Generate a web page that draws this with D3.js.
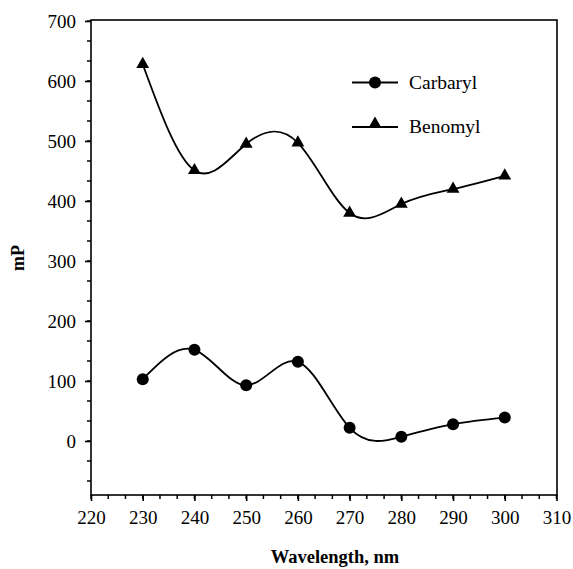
<!DOCTYPE html>
<html><head><meta charset="utf-8">
<script src="https://cdn.jsdelivr.net/npm/d3@7"></script>
<style>body{margin:0;background:#fff}</style>
</head><body>
<svg id="c" width="573" height="569"></svg>
<script>
const wavelengths = [230, 240, 250, 260, 270, 280, 290, 300];
const carbaryl = [103, 152, 93, 132, 22, 7, 28, 39];
const benomyl = [628, 451, 495, 497, 380, 395, 420, 442];
const xTicks = [220, 230, 240, 250, 260, 270, 280, 290, 300, 310];
const yTicks = [0, 100, 200, 300, 400, 500, 600, 700];
const seriesNames = ["Carbaryl", "Benomyl"];

const svg = d3.select("#c");
const L = 91, R = 557, T = 20, B = 495;
const x = d3.scaleLinear().domain([220, 310]).range([L, 556.5]);
const y = d3.scaleLinear().domain([0, 700]).range([441, 21]);
const font = "'Liberation Serif','Times New Roman',serif";

// frame
svg.append("rect").attr("x", L).attr("y", T).attr("width", R - L).attr("height", B - T)
  .attr("fill", "none").attr("stroke", "#000").attr("stroke-width", 1.6);

// minor ticks
const xMinor = d3.range(220, 310.01, 10 / 3);
svg.append("g").selectAll("line").data(xMinor).join("line")
  .attr("x1", d => x(d)).attr("x2", d => x(d)).attr("y1", B).attr("y2", B + 4)
  .attr("stroke", "#000").attr("stroke-width", 1.5);
const yMinor = d3.range(-100 / 3 * 2, 700.01, 100 / 3).filter(v => y(v) <= B - 2);
svg.append("g").selectAll("line").data(yMinor).join("line")
  .attr("x1", L - 4).attr("x2", L).attr("y1", d => y(d)).attr("y2", d => y(d))
  .attr("stroke", "#000").attr("stroke-width", 1.5);

// axes
const xAxis = svg.append("g").attr("transform", `translate(0,${B})`)
  .call(d3.axisBottom(x).tickValues(xTicks).tickSize(6).tickPadding(10).tickFormat(d3.format("d")));
const yAxis = svg.append("g").attr("transform", `translate(${L},0)`)
  .call(d3.axisLeft(y).tickValues(yTicks).tickSize(6).tickPadding(9).tickFormat(d3.format("d")));
[xAxis, yAxis].forEach(g => {
  g.select(".domain").remove();
  g.selectAll(".tick line").attr("stroke-width", 1.6);
  g.selectAll("text").attr("font-family", font).attr("font-size", 19).attr("fill", "#000");
});

// lines
const line = d3.line().x(d => x(d[0])).y(d => y(d[1])).curve(d3.curveNatural);
const data = [carbaryl, benomyl].map(vals => wavelengths.map((w, i) => [w, vals[i]]));
data.forEach(pts => {
  svg.append("path").attr("d", line(pts)).attr("fill", "none")
    .attr("stroke", "#000").attr("stroke-width", 1.8);
});

const tri = d3.symbol().type(d3.symbolTriangle).size(72);
// markers
svg.append("g").selectAll("circle").data(data[0]).join("circle")
  .attr("cx", d => x(d[0])).attr("cy", d => y(d[1])).attr("r", 6).attr("fill", "#000");
svg.append("g").selectAll("path").data(data[1]).join("path")
  .attr("d", tri).attr("transform", d => `translate(${x(d[0])},${y(d[1])})`).attr("fill", "#000");

// legend
const leg = svg.append("g");
const legY = [82.5, 127];
seriesNames.forEach((name, i) => {
  const ly = legY[i];
  leg.append("line").attr("x1", 352).attr("x2", 398).attr("y1", ly).attr("y2", ly)
    .attr("stroke", "#000").attr("stroke-width", 1.8);
  if (i === 0) leg.append("circle").attr("cx", 375).attr("cy", ly).attr("r", 6).attr("fill", "#000");
  else leg.append("path").attr("d", tri).attr("transform", `translate(375,${ly - 3})`).attr("fill", "#000");
  leg.append("text").attr("x", 409).attr("y", ly + 6).text(name)
    .attr("font-family", font).attr("font-size", 19.5).attr("fill", "#000");
});

// titles
svg.append("text").attr("x", 335).attr("y", 563).attr("text-anchor", "middle")
  .attr("font-family", font).attr("font-size", 18.5).attr("font-weight", "bold").text("Wavelength, nm");
svg.append("text").attr("transform", "translate(24,258) rotate(-90)").attr("text-anchor", "middle")
  .attr("font-family", font).attr("font-size", 18).attr("font-weight", "bold").text("mP");
</script>
</body></html>
